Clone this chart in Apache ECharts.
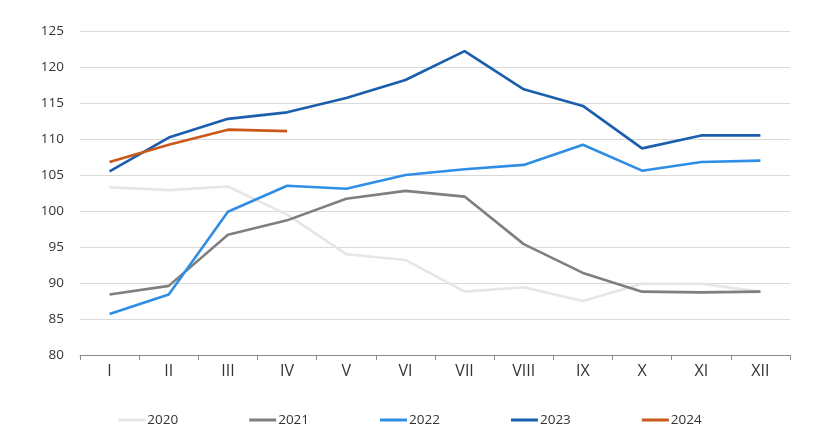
<!DOCTYPE html>
<html><head><meta charset="utf-8">
<script src="https://cdn.jsdelivr.net/npm/echarts@6/dist/echarts.min.js"></script>
<style>html,body{margin:0;padding:0;background:#fff}#c{width:820px;height:443px}</style>
</head><body><div id="c"></div>
<script>
const months = ['I','II','III','IV','V','VI','VII','VIII','IX','X','XI','XII'];
const y2020 = [103.3,102.9,103.4,99.5,94.0,93.2,88.8,89.4,87.5,89.9,89.9,88.8];
const y2021 = [88.4,89.6,96.7,98.7,101.7,102.8,102.0,95.4,91.4,88.8,88.7,88.8];
const y2022 = [85.7,88.4,99.9,103.5,103.1,105.0,105.8,106.4,109.2,105.6,106.8,107.0];
const y2023 = [105.5,110.2,112.8,113.7,115.7,118.2,122.2,116.9,114.6,108.7,110.5,110.5];
const y2024 = [106.8,109.2,111.3,111.1];
const names = ['2020','2021','2022','2023','2024'];
const colors = ['#e6e6e6','#7f7f7f','#2e8ee6','#1a5eae','#c9581a'];
const data = [y2020,y2021,y2022,y2023,y2024];
const font = '"Open Sans", "Noto Sans", sans-serif';
const chart = echarts.init(document.getElementById('c'));
chart.setOption({
  animation:false,
  grid:{left:80,right:30,top:31,bottom:88},
  legend:{bottom:11,left:'center',itemGap:71,itemWidth:27,itemHeight:3,icon:'rect',
    textStyle:{fontFamily:font,fontSize:13.5,color:'#333',padding:[0,0,0,-3]},
    data:names},
  xAxis:{type:'category',data:months,boundaryGap:true,
    axisLine:{lineStyle:{color:'#8c8c8c',width:1}},
    axisTick:{show:true,length:5,lineStyle:{color:'#8c8c8c'}},
    axisLabel:{fontFamily:font,fontSize:16,color:'#333',margin:8}},
  yAxis:{type:'value',min:80,max:125,interval:5,
    axisLine:{show:false},axisTick:{show:false},
    splitLine:{lineStyle:{color:'#d9d9d9',width:1}},
    axisLabel:{fontFamily:font,fontSize:13.5,color:'#333',margin:16}},
  series:names.map((n,i)=>({name:n,type:'line',data:data[i],symbol:'none',
    lineStyle:{color:colors[i],width:2.6},itemStyle:{color:colors[i]},z:i+2}))
});
</script></body></html>
